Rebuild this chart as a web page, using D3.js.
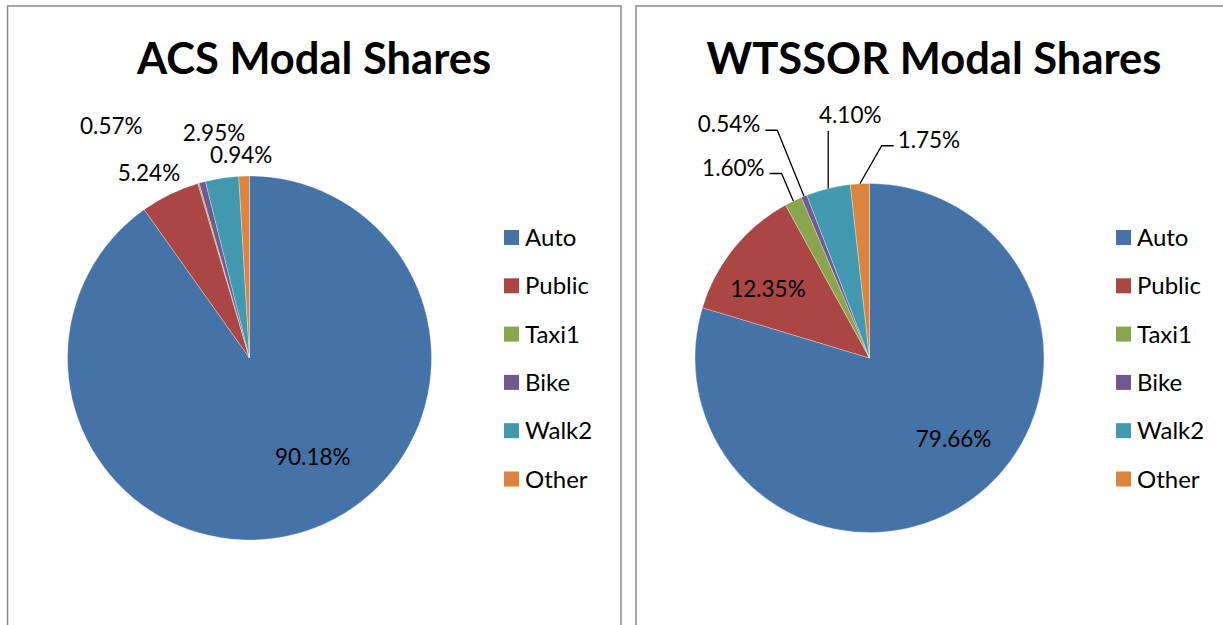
<!DOCTYPE html>
<html>
<head>
<meta charset="utf-8">
<script src="https://cdn.jsdelivr.net/npm/d3@7"></script>
<style>
  body { margin: 0; background: #fff; }
  text { font-family: Lato, "Open Sans", sans-serif; fill: #000; }
</style>
</head>
<body>
<div id="chart"></div>
<script>
// data
var modes = ["Auto", "Public", "Taxi1", "Bike", "Walk2", "Other"];
var modeColors = ["#4572A7", "#AA4643", "#89A54E", "#71588F", "#4198AF", "#DB843D"];
var acsShares = [90.18, 5.24, 0.12, 0.57, 2.95, 0.94];
var wtssorShares = [79.66, 12.35, 1.60, 0.54, 4.10, 1.75];
var titles = ["ACS Modal Shares", "WTSSOR Modal Shares"];

// label nudges from the slice's outer edge (null = no label shown)
var acsLabelNudge = [[8, -74], [-21, -21], null, [-91, -56], [-8, -45], [-3, -21]];
var wtssorLabelNudge = [[-20, -59], [34, 41], [-60, -33.5], [-75, -72], [22, -73.5], [69, -44]];
var wtssorLeaders = [null, null, "left", "left", "down", "right"];

var width = 1223, height = 625;

var svg = d3.select("#chart")
    .append("svg")
    .attr("width", width)
    .attr("height", height);

var panels = [
    { x0: 7.5, x1: 621, cx: 249.5, cy: 358, r: 182, titleX: 314, legendX: 504,
      shares: acsShares, nudge: acsLabelNudge, leaders: [] },
    { x0: 636, x1: 1240, cx: 869.5, cy: 358, r: 174.5, titleX: 934, legendX: 1116,
      shares: wtssorShares, nudge: wtssorLabelNudge, leaders: wtssorLeaders }
];

var color = d3.scaleOrdinal().domain(modes).range(modeColors);
var legendY = d3.scalePoint().domain(modes).range([237.5, 479]);
var fmt = d3.format(".2f");

var pie = d3.pie()
    .sort(null)
    .value(function(d) { return d.value; });

panels.forEach(function(p, pi) {

    var g = svg.append("g");

    /* panel frame */
    g.append("rect")
        .attr("x", p.x0)
        .attr("y", 6)
        .attr("width", p.x1 - p.x0)
        .attr("height", height + 20)
        .attr("fill", "none")
        .attr("stroke", "#8a8a8a")
        .attr("stroke-width", 1.5);

    g.append("text")
        .attr("x", p.titleX)
        .attr("y", 74)
        .attr("text-anchor", "middle")
        .style("font-size", "43.5px")
        .style("font-weight", "bold")
        .text(titles[pi]);

    var data = modes.map(function(m, i) { return { mode: m, value: p.shares[i], i: i }; });
    var arcs = pie(data);

    var arc = d3.arc().innerRadius(0).outerRadius(p.r);
    var rim = d3.arc().innerRadius(p.r).outerRadius(p.r);

    var pg = g.append("g")
        .attr("transform", "translate(" + p.cx + "," + p.cy + ")");

    pg.selectAll("path")
        .data(arcs)
        .enter().append("path")
            .attr("d", arc)
            .attr("fill", function(d) { return color(d.data.mode); })
            .attr("stroke", "#fff")
            .attr("stroke-opacity", 0.5)
            .attr("stroke-width", 0.6);

    // data labels
    arcs.forEach(function(d) {
        var nudge = p.nudge[d.data.i];
        if (!nudge) return;
        var edge = rim.centroid(d);
        var lx = edge[0] + nudge[0], ly = edge[1] + nudge[1];

        var t = pg.append("text")
            .attr("x", lx)
            .attr("y", ly + 8)
            .attr("text-anchor", "middle")
            .style("font-size", "22.5px")
            .text(fmt(d.data.value) + "%");

        var side = p.leaders[d.data.i];
        if (!side) return;
        var bb = t.node().getBBox();
        var pts;
        if (side == "left") {
            var ex = bb.x + bb.width + 5, ey = ly + 6;
            pts = [[ex, ey], [ex + 12, ey], edge];
        } else if (side == "right") {
            var ex2 = bb.x - 4, ey2 = ly + 6;
            pts = [[ex2, ey2], [ex2 - 12, ey2], edge];
        } else {
            pts = [[edge[0], ly + 16], edge];
        }
        pg.append("path")
            .attr("d", d3.line()(pts))
            .attr("fill", "none")
            .attr("stroke", "#000")
            .attr("stroke-width", 1.3);
    });

    /* legend */
    var lg = g.append("g");
    lg.selectAll("rect")
        .data(modes)
        .enter().append("rect")
            .attr("x", p.legendX)
            .attr("y", function(d) { return legendY(d) - 7.5; })
            .attr("width", 15)
            .attr("height", 15)
            .attr("fill", function(d) { return color(d); });

    lg.selectAll("text")
        .data(modes)
        .enter().append("text")
            .attr("x", p.legendX + 21)
            .attr("y", function(d) { return legendY(d) + 8.5; })
            .style("font-size", "24px")
            .text(function(d) { return d; });
});
</script>
</body>
</html>
